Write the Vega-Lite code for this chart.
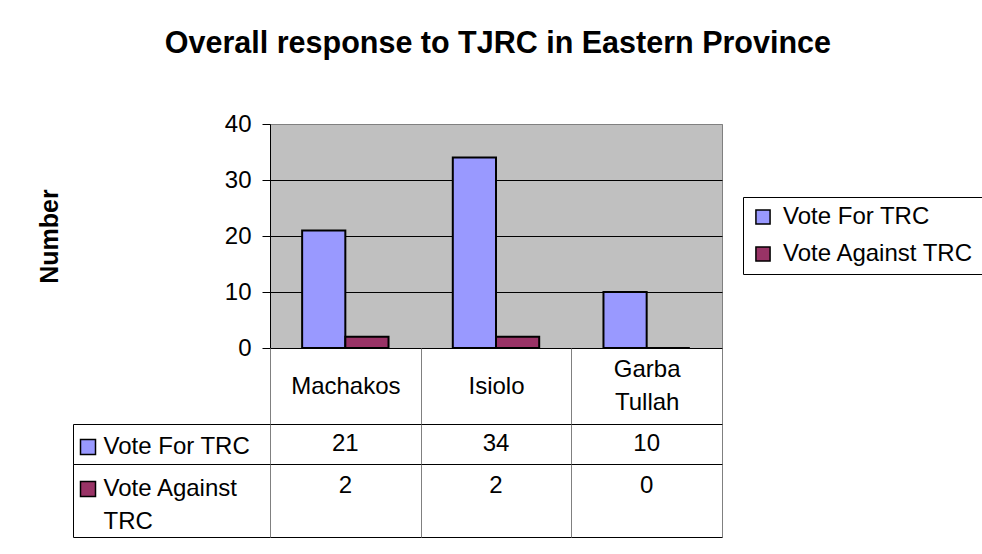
{
  "$schema": "https://vega.github.io/schema/vega-lite/v6.json",
  "background": "white",
  "padding": {"left": 36, "top": 29, "right": 0, "bottom": 0},
  "title": {"text": "Overall response to TJRC in Eastern Province", "fontSize": 30.5, "fontWeight": "bold", "font": "Liberation Sans", "color": "black", "anchor": "middle", "offset": 52, "dx": -12},
  "datasets": {
    "votes": [
      {"district": "Machakos", "series": "Vote For TRC", "value": 21},
      {"district": "Machakos", "series": "Vote Against TRC", "value": 2},
      {"district": "Isiolo", "series": "Vote For TRC", "value": 34},
      {"district": "Isiolo", "series": "Vote Against TRC", "value": 2},
      {"district": "Garba Tullah", "series": "Vote For TRC", "value": 10},
      {"district": "Garba Tullah", "series": "Vote Against TRC", "value": 0}
    ]
  },
  "columns": 2,
  "spacing": 0,
  "bounds": "flush",
  "concat": [
    {
      "width": 197, "height": 224,
      "data": {"values": []},
      "view": {"stroke": null},
      "mark": "text",
      "encoding": {}
    },
    {
      "width": 452, "height": 224,
      "data": {"name": "votes"},
      "view": {"fill": "#C0C0C0", "stroke": "#808080"},
      "mark": {"type": "bar", "stroke": "black", "strokeWidth": 2},
      "encoding": {
        "x": {"field": "district", "type": "nominal", "sort": ["Machakos", "Isiolo", "Garba Tullah"], "scale": {"paddingInner": 0, "paddingOuter": 0}, "axis": null},
        "xOffset": {"field": "series", "type": "nominal", "sort": ["Vote For TRC", "Vote Against TRC"], "scale": {"paddingInner": 0, "paddingOuter": 0.744}},
        "y": {"field": "value", "type": "quantitative", "scale": {"domain": [0, 40], "nice": false},
          "axis": {"values": [0, 10, 20, 30, 40], "title": "Number", "titleFontSize": 25, "titleFontWeight": "bold", "titleColor": "black", "titlePadding": 162,
            "labelFontSize": 24, "labelColor": "black", "labelPadding": 11, "tickSize": 8, "tickColor": "black", "domainColor": "black",
            "grid": true, "gridColor": {"condition": {"test": "datum.value === 40", "value": "#808080"}, "value": "black"}}},
        "color": {"field": "series", "type": "nominal", "scale": {"domain": ["Vote For TRC", "Vote Against TRC"], "range": ["#9999FF", "#993366"]},
          "legend": {"orient": "none", "legendX": 473, "legendY": 73, "title": null, "padding": 8, "strokeColor": "black", "fillColor": "white",
            "symbolType": "square", "symbolSize": 200, "symbolStrokeColor": "black", "symbolStrokeWidth": 1.5,
            "labelFontSize": 24, "labelColor": "black", "labelLimit": 400, "rowPadding": 13, "labelOffset": 8}}
      }
    },
    {
      "width": 197, "height": 76,
      "data": {"values": []},
      "view": {"stroke": null},
      "mark": "text",
      "encoding": {}
    },
    {
      "width": 452, "height": 76,
      "data": {"name": "votes"},
      "transform": [{"filter": "datum.series == 'Vote For TRC'"}],
      "mark": {"type": "text", "text": ""},
      "encoding": {
        "x": {"field": "district", "type": "nominal", "sort": ["Machakos", "Isiolo", "Garba Tullah"], "scale": {"paddingInner": 0, "paddingOuter": 0},
          "axis": {"orient": "bottom", "grid": true, "tickBand": "extent", "gridColor": "#808080", "ticks": false, "tickSize": 0, "domain": false, "title": null,
            "labelAngle": 0, "labelFontSize": 24, "labelColor": "black", "labelPadding": -38, "labelLineHeight": 33, "labelOverlap": false, "labelLimit": 400,
            "labelBaseline": {"condition": {"test": "datum.value == 'Garba Tullah'", "value": "line-bottom"}, "value": "middle"},
            "labelExpr": "isString(datum.value) ? split(datum.value, ' ') : ''"}}
      }
    },
    {
      "width": 197, "height": 40,
      "data": {"name": "votes"},
      "transform": [{"filter": "datum.series == 'Vote For TRC'"}],
      "mark": {"type": "text", "text": ""},
      "encoding": {
        "y": {"field": "series", "type": "nominal", "scale": {"paddingInner": 0, "paddingOuter": 0},
          "axis": {"title": null, "domain": false, "ticks": false, "tickSize": 0, "labelAlign": "left", "labelPadding": -30, "labelFontSize": 24, "labelColor": "black", "labelLimit": 400, "labelOffset": 2}},
        "color": {"field": "series", "type": "nominal", "scale": {"domain": ["Vote For TRC"], "range": ["#9999FF"]},
          "legend": {"orient": "none", "legendX": 6.5, "legendY": 14.5, "title": null, "padding": 0, "symbolType": "square", "symbolSize": 225,
            "symbolStrokeColor": "black", "symbolStrokeWidth": 1.5, "labelExpr": "''", "labelFontSize": 1}}
      }
    },
    {
      "width": 452, "height": 40,
      "data": {"name": "votes"},
      "transform": [{"filter": "datum.series == 'Vote For TRC'"}],
      "mark": {"type": "text", "fontSize": 24, "color": "black"},
      "encoding": {
        "x": {"field": "district", "type": "nominal", "sort": ["Machakos", "Isiolo", "Garba Tullah"], "scale": {"paddingInner": 0, "paddingOuter": 0},
          "axis": {"grid": true, "tickBand": "extent", "gridColor": "#808080", "labels": false, "ticks": false, "domain": false, "title": null}},
        "text": {"field": "value", "type": "quantitative"}
      }
    },
    {
      "width": 197, "height": 73,
      "data": {"name": "votes"},
      "transform": [{"filter": "datum.series == 'Vote Against TRC'"}],
      "mark": {"type": "text", "text": ""},
      "encoding": {
        "y": {"field": "series", "type": "nominal", "scale": {"paddingInner": 0, "paddingOuter": 0},
          "axis": {"title": null, "domain": false, "ticks": false, "tickSize": 0, "labelAlign": "left", "labelPadding": -30, "labelFontSize": 24, "labelColor": "black", "labelLimit": 400,
            "labelLineHeight": 33, "labelOffset": -12, "labelExpr": "datum.value == 'Vote Against TRC' ? ['Vote Against', 'TRC'] : datum.value"}},
        "color": {"field": "series", "type": "nominal", "scale": {"domain": ["Vote Against TRC"], "range": ["#993366"]},
          "legend": {"orient": "none", "legendX": 6.5, "legendY": 16.5, "title": null, "padding": 0, "symbolType": "square", "symbolSize": 225,
            "symbolStrokeColor": "black", "symbolStrokeWidth": 1.5, "labelExpr": "''", "labelFontSize": 1}}
      }
    },
    {
      "width": 452, "height": 73,
      "data": {"name": "votes"},
      "transform": [{"filter": "datum.series == 'Vote Against TRC'"}],
      "mark": {"type": "text", "fontSize": 24, "color": "black", "dy": -14.5},
      "encoding": {
        "x": {"field": "district", "type": "nominal", "sort": ["Machakos", "Isiolo", "Garba Tullah"], "scale": {"paddingInner": 0, "paddingOuter": 0},
          "axis": {"grid": true, "tickBand": "extent", "gridColor": "#808080", "labels": false, "ticks": false, "domain": false, "title": null}},
        "text": {"field": "value", "type": "quantitative"}
      }
    }
  ],
  "resolve": {
    "scale": {"x": "independent", "y": "independent", "color": "independent"},
    "legend": {"color": "independent"}
  },
  "config": {
    "font": "Liberation Sans",
    "view": {"stroke": "black", "strokeWidth": 1},
    "axis": {"labelFont": "Liberation Sans", "titleFont": "Liberation Sans"},
    "legend": {"labelFont": "Liberation Sans"},
    "text": {"font": "Liberation Sans"}
  }
}
